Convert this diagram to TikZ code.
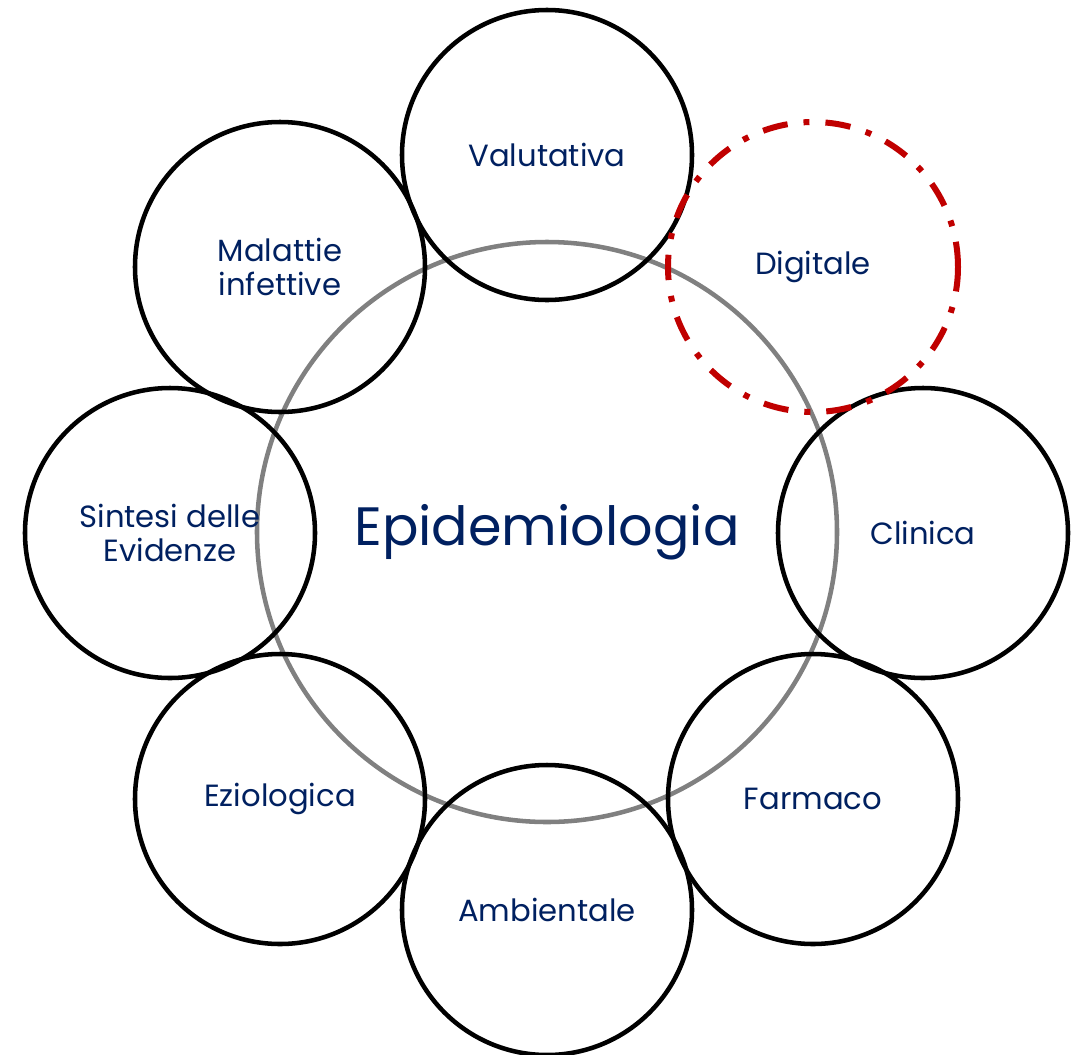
\documentclass[tikz,border=0pt]{standalone}
\usepackage{fontspec}
\setmainfont{Poppins}
\definecolor{navy}{HTML}{002060}
\definecolor{dred}{HTML}{C00000}
\definecolor{midgray}{HTML}{808080}
\begin{document}
\begin{tikzpicture}[x=0.75pt,y=-0.75pt,
  sat/.style={circle,draw=black,line width=3.4pt,minimum size=217.5pt,inner sep=0pt,
    text=navy,align=center,font=\fontsize{23}{26}\selectfont},
  digi/.style={sat,draw=dred,line width=4.5pt,
    dash pattern=on 19pt off 12pt on 4.5pt off 12pt},
  core/.style={circle,draw=midgray,line width=3.4pt,minimum size=435pt,inner sep=0pt,
    text=navy,font=\fontsize{40.5}{46}\selectfont}]
\useasboundingbox (0,0) rectangle (1079,1054);
\node[core] (epi) at (547,532) {Epidemiologia};
\node[sat] (val) at (547,155) {Valutativa};
\node[sat] (cli) at (923,533) {Clinica};
\node[sat] (far) at (813,799) {Farmaco};
\node[sat] (amb) at (547,910) {Ambientale};
\node[sat] (ezi) at (280,799) {Eziologica};
\node[sat] (sin) at (170,533) {Sintesi delle\\Evidenze};
\node[sat] (mal) at (280,267) {Malattie\\infettive};
\node[digi] (dig) at (813,267) {Digitale};
\end{tikzpicture}
\end{document}
